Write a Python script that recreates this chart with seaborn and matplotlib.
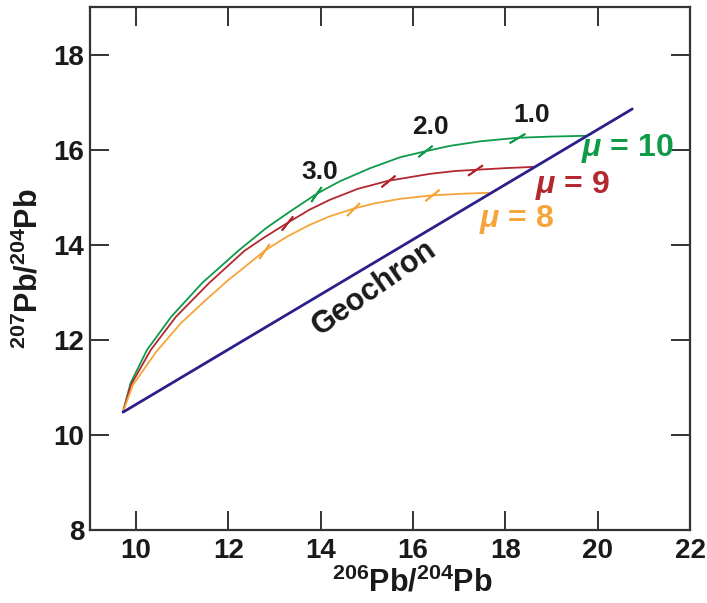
import matplotlib
matplotlib.use("Agg")
import matplotlib.pyplot as plt
import seaborn as sns
import pandas as pd

# ---- data ----
geochron_x = [9.72, 20.75]
geochron_y = [10.48, 16.86]

mu10_x = [9.717, 9.885, 10.239, 10.761, 11.435, 12.239, 12.826, 13.326, 13.913, 14.413,
          15.065, 15.717, 16.261, 16.804, 17.457, 18.261, 18.978, 19.739]
mu10_y = [10.484, 11.095, 11.789, 12.484, 13.200, 13.895, 14.358, 14.695, 15.074, 15.337,
          15.611, 15.842, 15.968, 16.084, 16.179, 16.253, 16.278, 16.295]

mu9_x = [9.717, 9.891, 10.320, 10.863, 11.587, 12.348, 12.783, 13.283, 13.761, 14.196,
         14.804, 15.457, 16.370, 16.913, 17.348, 18.000, 18.652]
mu9_y = [10.484, 11.053, 11.789, 12.484, 13.200, 13.874, 14.160, 14.463, 14.741, 14.947,
         15.179, 15.347, 15.495, 15.554, 15.579, 15.615, 15.642]

mu8_x = [9.717, 9.935, 10.435, 10.978, 11.515, 11.978, 12.457, 12.783, 13.261, 13.761,
         14.196, 14.696, 15.174, 15.717, 16.413, 17.022, 17.630]
mu8_y = [10.484, 11.053, 11.747, 12.358, 12.842, 13.242, 13.615, 13.874, 14.168, 14.421,
         14.600, 14.758, 14.874, 14.968, 15.042, 15.074, 15.095]

# age tick marks (Ga) on each growth curve
tick10_x = [18.26, 16.26, 13.91]
tick10_y = [16.25, 15.97, 15.07]
tick9_x = [17.35, 15.46, 13.28]
tick9_y = [15.58, 15.35, 14.46]
tick8_x = [16.41, 14.70, 12.78]
tick8_y = [15.04, 14.76, 13.87]

age_labels = ["1.0", "2.0", "3.0"]
age_label_x = [18.57, 16.37, 13.98]
age_label_y = [16.74, 16.48, 15.54]

curve_names = ["μ = 10", "μ = 9", "μ = 8"]

x_ticks = [10, 12, 14, 16, 18, 20, 22]
y_ticks = [8, 10, 12, 14, 16, 18]

# ---- style ----
GREEN = "#0f9a4a"
RED = "#b3282f"
ORANGE = "#f7a43a"
NAVY = "#2b1f8a"
INK = "#1a1a1a"

sns.set_theme(style="ticks")
plt.rcParams["font.family"] = ["Liberation Sans", "DejaVu Sans"]
plt.rcParams["font.weight"] = "bold"
plt.rcParams["mathtext.fontset"] = "custom"
plt.rcParams["mathtext.rm"] = "Liberation Sans"
plt.rcParams["mathtext.bf"] = "Liberation Sans:bold"
plt.rcParams["mathtext.it"] = "Liberation Sans:italic:bold"

fig = plt.figure(figsize=(7.07, 6.03), dpi=100)
ax = fig.add_axes([0.127, 0.121, 0.849, 0.867])

df = pd.concat([
    pd.DataFrame({"x": mu10_x, "y": mu10_y, "curve": curve_names[0]}),
    pd.DataFrame({"x": mu9_x, "y": mu9_y, "curve": curve_names[1]}),
    pd.DataFrame({"x": mu8_x, "y": mu8_y, "curve": curve_names[2]}),
])
palette = {curve_names[0]: GREEN, curve_names[1]: RED, curve_names[2]: ORANGE}
sns.lineplot(data=df, x="x", y="y", hue="curve", palette=palette, sort=False,
             estimator=None, linewidth=1.3, legend=False, ax=ax,
             solid_joinstyle="round", solid_capstyle="round")

sns.lineplot(x=geochron_x, y=geochron_y, color=NAVY, linewidth=2.0, ax=ax)

tick_sets = [
    (tick10_x, tick10_y, GREEN, [-59, -52, -35]),
    (tick9_x, tick9_y, RED, [-55, -50, -38]),
    (tick8_x, tick8_y, ORANGE, [-52, -45, -35]),
]
for tx, ty, col, angs in tick_sets:
    for xx, yy, a in zip(tx, ty, angs):
        ax.plot([xx], [yy], linestyle="none", marker=(2, 2, a), markersize=13,
                markeredgewidth=1.3, color=col)

for lab, lx, ly in zip(age_labels, age_label_x, age_label_y):
    ax.text(lx, ly, lab, ha="center", va="center", fontsize=19, fontweight="bold", color=INK)

ax.text(20.65, 16.02, "$\\mathit{\\mu}$ = 10", ha="center", va="center", fontsize=23,
        fontweight="bold", color=GREEN)
ax.text(19.46, 15.24, "$\\mathit{\\mu}$ = 9", ha="center", va="center", fontsize=23,
        fontweight="bold", color=RED)
ax.text(18.24, 14.53, "$\\mathit{\\mu}$ = 8", ha="center", va="center", fontsize=23,
        fontweight="bold", color=ORANGE)
ax.text(15.17, 13.09, "Geochron", ha="center", va="center", rotation=35,
        fontsize=22, fontweight="bold", color=INK)

ax.set_xlim(9, 22)
ax.set_ylim(8, 19)
ax.set_xticks(x_ticks)
ax.set_yticks(y_ticks)
ax.set_xticklabels([str(t) for t in x_ticks])
ax.set_yticklabels([str(t) for t in y_ticks])

ax.tick_params(axis="both", which="major", direction="in", length=14, width=1.4,
               colors="#333333", labelcolor=INK, labelsize=20,
               top=True, right=True)
ax.tick_params(axis="x", pad=6)
ax.tick_params(axis="y", pad=4)
for lab in ax.get_xticklabels() + ax.get_yticklabels():
    lab.set_fontweight("bold")

for s in ax.spines.values():
    s.set_linewidth(1.6)
    s.set_color("#333333")
    s.set_visible(True)

ax.set_xlabel(r"$^{\mathbf{206}}\mathbf{Pb}/^{\mathbf{204}}\mathbf{Pb}$", fontsize=22, color=INK)
ax.set_ylabel(r"$^{\mathbf{207}}\mathbf{Pb}/^{\mathbf{204}}\mathbf{Pb}$", fontsize=22, color=INK)
ax.xaxis.set_label_coords(0.538, -0.071)
ax.yaxis.set_label_coords(-0.075, 0.5)

fig.savefig("out.png", dpi=100)
